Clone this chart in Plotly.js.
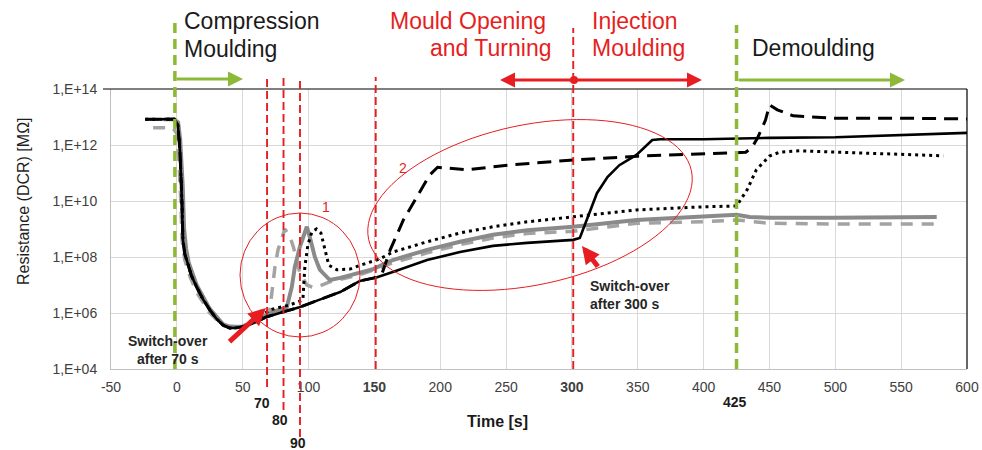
<!DOCTYPE html>
<html>
<head>
<meta charset="utf-8">
<script src="https://cdn.plot.ly/plotly-3.0.1.min.js"></script>
<style>html,body{margin:0;padding:0;background:#fff;}#chart{width:982px;height:450px;}</style>
</head>
<body>
<div id="chart"></div>
<script>
// ---------------- data ----------------
const xTickVals = [-50,0,50,100,150,200,250,300,350,400,450,500,550,600];
const xTickText = ['-50','0','50','100','<b>150</b>','200','250','<b>300</b>','350','400','450','500','550','600'];
const yTickVals = [1e4,1e6,1e8,1e10,1e12,1e14];
const yTickText = ['1,E+04','1,E+06','1,E+08','1,E+10','1,E+12','1,E+14'];

// black solid
const tBlackSolid = [-24,-2,0.8,2.3,3.8,4.6,6,7.6,11,15,20,25,30,35,40,45,50,60,68,80,93,110,124,139,152,164,190,215,240,266,291,301,306,311,319,327,336,349,361,367,400,450,500,600];
const rBlackSolid = [8.3e12,8.3e12,5.1e12,6.6e11,1.1e10,4.1e8,1.3e8,7.8e7,2.2e7,8.5e6,3.0e6,1.3e6,6.3e5,3.7e5,2.9e5,2.95e5,3.2e5,4.8e5,7.2e5,1.07e6,1.6e6,3.2e6,5.6e6,1.4e7,1.9e7,2.9e7,7.8e7,1.5e8,2.5e8,3.2e8,3.7e8,4.1e8,4.8e8,2.1e9,1.9e10,7.2e10,1.9e11,4.4e11,1.5e12,1.6e12,1.6e12,1.8e12,1.9e12,2.7e12];

// black dashed
const tBlackDashed = [-24,-2,0.8,2.3,3.8,4.6,6,7.6,11,15,20,25,30,35,40,45,50,60,68,80,93,110,124,139,150,156,162,172,182,192,198,207,220,253,301,350,425,432,437,441,447,450,456,468,498,549,600];
const rBlackDashed = [8.3e12,8.3e12,5.1e12,6.6e11,1.1e10,4.1e8,1.3e8,7.8e7,2.2e7,8.5e6,3.0e6,1.3e6,6.3e5,3.7e5,2.9e5,2.95e5,3.2e5,4.8e5,7.2e5,1.07e6,1.6e6,3.2e6,5.6e6,1.4e7,1.8e7,2.7e7,1.8e8,2.1e9,1.4e10,8.5e10,1.6e11,1.5e11,1.3e11,1.95e11,2.9e11,4.0e11,5.1e11,5.5e11,8.5e11,1.8e12,7.8e12,2.7e13,1.8e13,1.1e13,9.1e12,9.1e12,8.5e12];

// black dotted
const tBlackDotted = [-24,-2,0.8,2.3,3.8,4.6,6,7.6,11,15,20,25,30,35,40,45,50,60,70.6,86,95.7,97.2,99.5,102.5,106,109.4,112.4,115.4,121.5,131.4,140,154,164,190,215,240,266,301,349,399.5,425,433,440,450,458,473,524,582];
const rBlackDotted = [8.3e12,8.3e12,5.1e12,6.6e11,1.1e10,4.1e8,1.3e8,7.8e7,2.2e7,8.5e6,3.0e6,1.3e6,6.3e5,3.7e5,2.9e5,2.95e5,3.2e5,5.6e5,1.3e6,1.95e6,2.9e6,4.4e7,2.7e8,7.8e8,1.0e9,7.2e8,1.8e8,5.1e7,3.5e7,3.7e7,5.2e7,8.5e7,1.5e8,3.5e8,7.2e8,1.2e9,1.8e9,2.7e9,4.8e9,6.2e9,6.6e9,2.5e10,1.3e11,4.0e11,5.6e11,6.2e11,5.1e11,4.1e11];

// grey solid
const tGreySolid = [-10,-2,1,2.5,4.5,5.5,7,9,15,25,35,40,50,60,72.9,83.5,87.3,89.6,93.4,97.2,98.7,101,104.8,108.6,116.2,124,139,149,164,190,215,240,266,301,349,399.5,425,435,450,498,577];
const rGreySolid = [8.3e12,8.3e12,6.3e12,1.6e12,3.2e10,1.0e9,2.0e8,6.3e7,1.0e7,1.4e6,4.0e5,3.2e5,3.3e5,5.0e5,1.1e6,1.6e6,8.5e6,4.4e7,2.3e8,7.2e8,1.2e9,5.1e8,1.0e8,3.5e7,1.5e7,1.8e7,2.9e7,3.7e7,7.8e7,1.8e8,3.5e8,6.2e8,9.1e8,1.2e9,2.1e9,2.7e9,3.2e9,2.7e9,2.5e9,2.5e9,2.7e9];

// grey dashed
const tGreyDashed = [-18,-3,0,1.5,3,4,6,10,15,25,35,45,55,66,70.6,73,74.5,76.8,80.5,82,86,88.5,93.4,98.7,104.8,116,124,139,164,190,215,240,266,301,349,399.5,425,450,498,577];
const rGreyDashed = [4.1e12,4.1e12,2.5e12,3.2e11,1.0e10,4.0e8,7.9e7,2.0e7,5.6e6,1.0e6,3.5e5,3.2e5,4.0e5,7.1e5,1.3e6,1.2e7,4.4e7,1.8e8,7.2e8,1.0e9,5.1e8,2.3e8,2.7e7,1.0e7,7.8e6,1.3e7,1.6e7,2.3e7,6.2e7,1.4e8,2.75e8,4.8e8,6.9e8,8.3e8,1.6e9,1.8e9,2.1e9,1.6e9,1.5e9,1.5e9];

// phase marker times as drawn in the picture
const redLineTimes = [68.5, 81, 93.5, 151, 301];
const greenLineTimes = [-1.5, 425];

// ---------------- helpers: pixel -> paper ----------------
const L = 111, R = 967, T = 89, B = 369;
const px = v => (v - L) / (R - L);
const py = v => (B - v) / (B - T);

const FONT = 'Liberation Sans, Arial, sans-serif';
const RED = 'rgb(230,30,34)';
const GREEN = 'rgb(140,185,55)';

const traces = [
  {x: tGreyDashed, y: rGreyDashed, mode: 'lines', line: {color: '#a3a3a3', width: 3.5, dash: '12px,9px'}},
  {x: tGreySolid, y: rGreySolid, mode: 'lines', line: {color: '#8a8a8a', width: 4}},
  {x: tBlackSolid, y: rBlackSolid, mode: 'lines', line: {color: '#000', width: 2.6}},
  {x: tBlackDashed, y: rBlackDashed, mode: 'lines', line: {color: '#000', width: 3, dash: '14px,8px'}},
  {x: tBlackDotted, y: rBlackDotted, mode: 'lines', line: {color: '#000', width: 3, dash: '3px,4px'}}
];

const shapes = [];
// frame top & right (black)
shapes.push({type: 'line', xref: 'paper', yref: 'paper', x0: px(103), x1: 1, y0: 1, y1: 1, line: {color: '#000', width: 1.2}});
shapes.push({type: 'line', xref: 'paper', yref: 'paper', x0: 1, x1: 1, y0: 0, y1: 1, line: {color: '#000', width: 1.2}});

// red dashed verticals
const redBottoms = [387, 410, 437, 369, 369];
const redTops = [77, 77, 77, 77, 28];
redLineTimes.forEach((t, i) => {
  shapes.push({type: 'line', xref: 'x', yref: 'paper', x0: t, x1: t, y0: py(redBottoms[i]), y1: py(redTops[i]),
    line: {color: RED, width: 1.9, dash: '8px,4px'}});
});
// green dashed verticals
const greenTops = [23, 25];
greenLineTimes.forEach((t, i) => {
  shapes.push({type: 'line', xref: 'x', yref: 'paper', x0: t, x1: t, y0: 0, y1: py(greenTops[i]),
    line: {color: GREEN, width: 3.5, dash: '10px,6px'}});
});

// circle 1
shapes.push({type: 'circle', xref: 'paper', yref: 'paper', x0: px(240), x1: px(360), y0: py(337), y1: py(213),
  line: {color: RED, width: 1}});
// ellipse 2 (tilted)
(function(){
  const cx = 530, cy = 205, a = 165, b = 80, th = 12 * Math.PI / 180;
  let d = '';
  for (let i = 0; i <= 96; i++) {
    const t = 2 * Math.PI * i / 96;
    const X = cx + a * Math.cos(t) * Math.cos(th) + b * Math.sin(t) * Math.sin(th);
    const Y = cy - a * Math.cos(t) * Math.sin(th) + b * Math.sin(t) * Math.cos(th);
    d += (i === 0 ? 'M' : 'L') + px(X).toFixed(5) + ',' + py(Y).toFixed(5);
  }
  d += 'Z';
  shapes.push({type: 'path', xref: 'paper', yref: 'paper', path: d, line: {color: RED, width: 1}});
})();
// dot on the red double arrow
shapes.push({type: 'circle', xref: 'paper', yref: 'paper', x0: px(570), x1: px(578), y0: py(84), y1: py(76),
  fillcolor: RED, line: {color: RED, width: 0}});

const ann = [];
function txt(text, x, y, opts) {
  ann.push(Object.assign({xref: 'paper', yref: 'paper', x: px(x), y: py(y), text: text, showarrow: false,
    font: {family: FONT, size: 23, color: '#1a1a1a'}, xanchor: 'left', yanchor: 'middle'}, opts || {}));
}
function arrow(x0, y0, x1, y1, color, width, size) {
  ann.push({xref: 'paper', yref: 'paper', x: px(x1), y: py(y1), axref: 'pixel', ayref: 'pixel',
    ax: x0 - x1, ay: y0 - y1, text: '', showarrow: true, arrowhead: 2, arrowsize: size, arrowwidth: width,
    arrowcolor: color, standoff: 0, startstandoff: 0});
}
// phase titles
txt('Compression', 182, 21);
txt('Moulding', 182, 49);
txt('Mould Opening', 548, 21, {xanchor: 'right', font: {family: FONT, size: 23, color: RED}});
txt('and Turning', 553, 48, {xanchor: 'right', font: {family: FONT, size: 23, color: RED}});
txt('Injection', 590, 21, {font: {family: FONT, size: 23, color: RED}});
txt('Moulding', 590, 48, {font: {family: FONT, size: 23, color: RED}});
txt('Demoulding', 750, 48);
// phase arrows
arrow(175, 79, 243, 79, GREEN, 3, 1);
arrow(574, 80, 500, 80, RED, 3, 1);
arrow(574, 80, 702, 80, RED, 3, 1);
arrow(737, 80, 905, 80, GREEN, 3, 1);
// switch-over arrows
arrow(228, 343, 266, 308, RED, 5, 0.7);
arrow(599, 268, 582, 246, RED, 5, 0.7);
txt('<b>Switch-over<br>after 70 s</b>', 168, 350, {xanchor: 'center', align: 'center', font: {family: FONT, size: 14, color: '#262626'}});
txt('<b>Switch-over<br>after 300 s</b>', 588, 295, {xanchor: 'left', align: 'left', font: {family: FONT, size: 14, color: '#262626'}});
// circle labels
txt('1', 326, 207, {xanchor: 'center', font: {family: FONT, size: 14, color: RED}});
txt('2', 403, 168, {xanchor: 'center', font: {family: FONT, size: 14, color: RED}});
// extra time labels
txt('<b>70</b>', 262, 403, {xanchor: 'center', font: {family: FONT, size: 14, color: '#1a1a1a'}});
txt('<b>80</b>', 280, 420, {xanchor: 'center', font: {family: FONT, size: 14, color: '#1a1a1a'}});
txt('<b>90</b>', 298, 443, {xanchor: 'center', font: {family: FONT, size: 14, color: '#1a1a1a'}});
txt('<b>425</b>', 735, 402, {xanchor: 'center', font: {family: FONT, size: 14, color: '#1a1a1a'}});
// axis titles
txt('<b>Time [s]</b>', 497, 421, {xanchor: 'center', font: {family: FONT, size: 16, color: '#1a1a1a'}});
ann.push({xref: 'paper', yref: 'paper', x: px(23), y: py(201), text: 'Resistance (DCR) [MΩ]', showarrow: false,
  textangle: -90, xanchor: 'center', yanchor: 'middle', font: {family: FONT, size: 16, color: '#1f1f1f'}});

const layout = {
  width: 982, height: 450,
  margin: {l: L, r: 982 - R, t: T, b: 450 - B, pad: 0},
  paper_bgcolor: '#fff', plot_bgcolor: '#fff',
  showlegend: false,
  font: {family: FONT, size: 14, color: '#404040'},
  xaxis: {range: [-50, 600], tickmode: 'array', tickvals: xTickVals, ticktext: xTickText,
    showgrid: true, gridcolor: '#d9d9d9', gridwidth: 1, zeroline: false,
    showline: true, linecolor: '#bfbfbf', linewidth: 1, ticks: '', ticklabelstandoff: 5,
    tickfont: {family: FONT, size: 14, color: '#404040'}},
  yaxis: {type: 'log', range: [4, 14], tickmode: 'array', tickvals: yTickVals, ticktext: yTickText,
    showgrid: true, gridcolor: '#d9d9d9', gridwidth: 1, zeroline: false,
    showline: true, linecolor: '#bfbfbf', linewidth: 1, ticks: '', ticklabelstandoff: 10,
    tickfont: {family: FONT, size: 14, color: '#404040'}},
  shapes: shapes,
  annotations: ann
};

Plotly.newPlot('chart', traces, layout, {staticPlot: true, displayModeBar: false});
</script>
</body>
</html>
